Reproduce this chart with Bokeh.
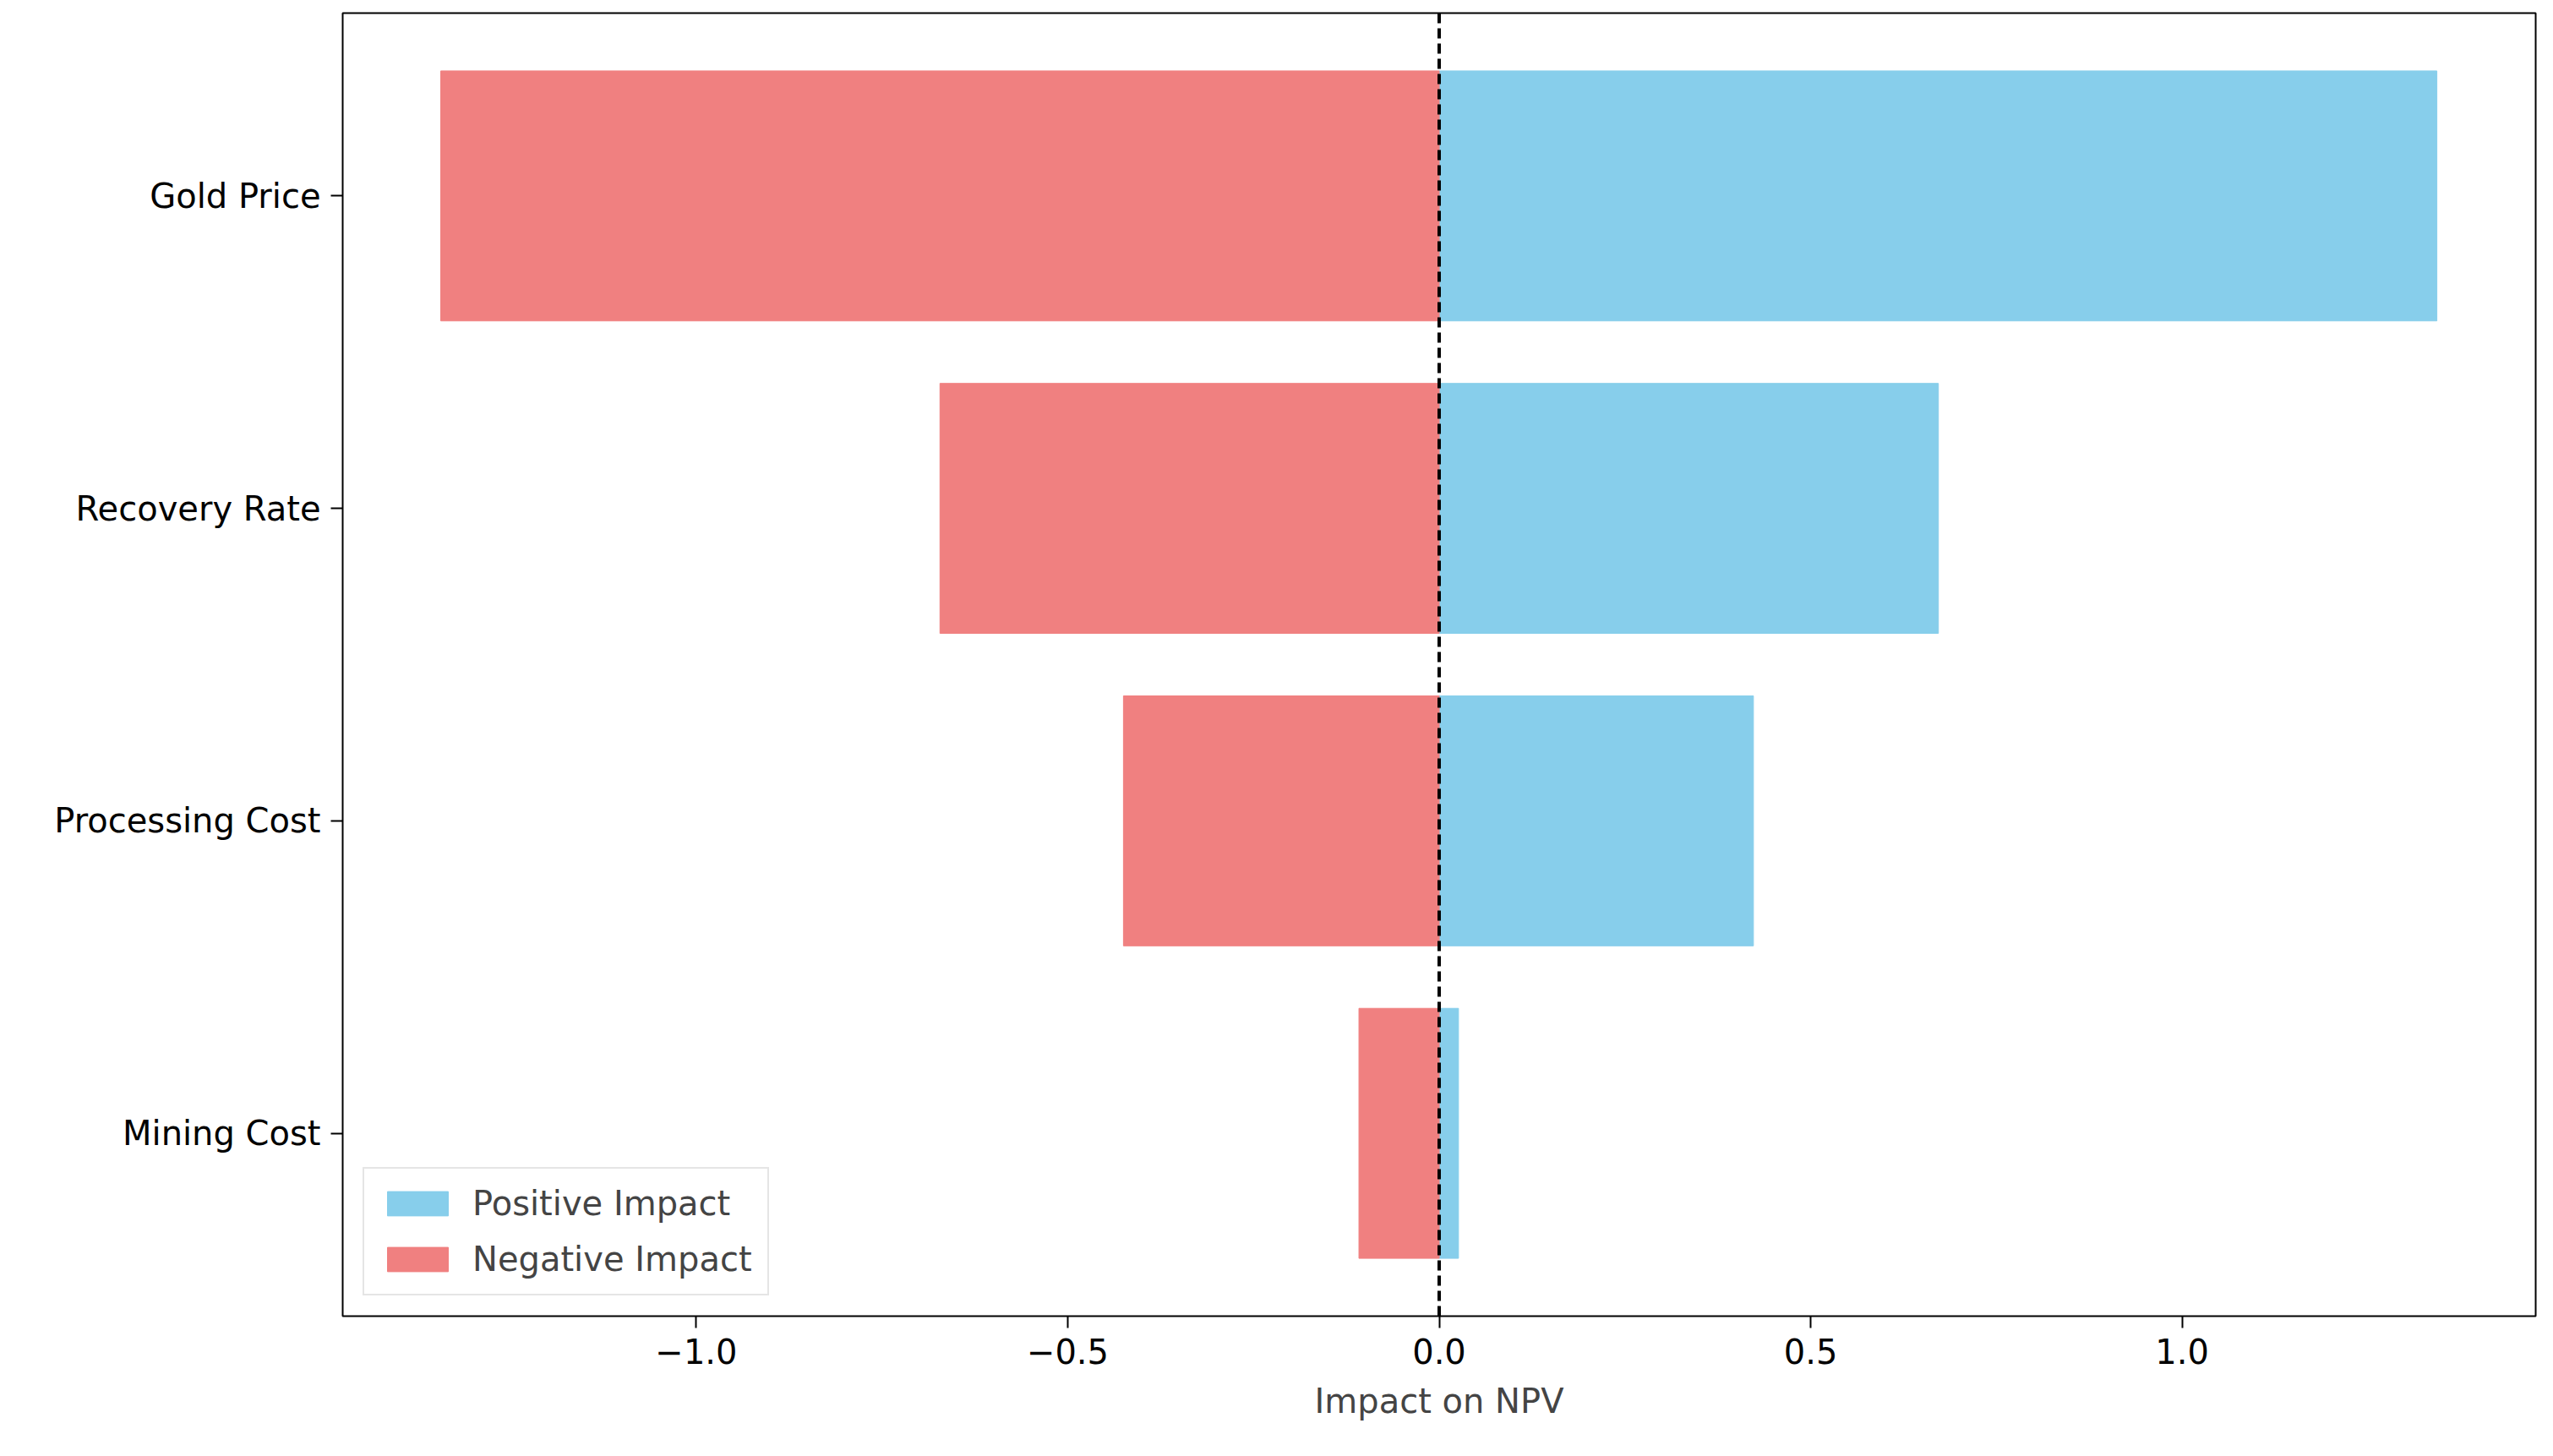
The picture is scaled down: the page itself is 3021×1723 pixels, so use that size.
from bokeh.plotting import figure
from bokeh.models import Span, Legend, LegendItem, FixedTicker, Range1d
from bokeh.embed import file_html
from bokeh.resources import INLINE

categories = ["Mining Cost", "Processing Cost", "Recovery Rate", "Gold Price"]
positive = [0.026, 0.423, 0.672, 1.343]
negative = [-0.108, -0.425, -0.672, -1.344]

ypos = list(range(len(categories)))
p = figure(width=3005, height=1700, output_backend="svg", toolbar_location=None,
           x_range=Range1d(-1.476, 1.476), y_range=Range1d(-0.585, 3.585),
           min_border_left=405, min_border_right=5, min_border_top=15, min_border_bottom=143)
p.xgrid.visible = False
p.ygrid.visible = False
p.outline_line_color = "black"
p.outline_line_width = 2

r1 = p.hbar(y=ypos, left=0, right=positive, height=0.8, color="#87CEEB")
r2 = p.hbar(y=ypos, left=negative, right=0, height=0.8, color="#F08080")
p.add_layout(Span(location=0, dimension="height", line_color="black", line_width=4, line_dash="12 6"))

p.yaxis.ticker = FixedTicker(ticks=ypos)
p.yaxis.major_label_overrides = {i: c for i, c in enumerate(categories)}
p.xaxis.ticker = FixedTicker(ticks=[-1.0, -0.5, 0.0, 0.5, 1.0])
p.xaxis.major_label_overrides = {-1.0: "\u22121.0", -0.5: "\u22120.5", 0.0: "0.0", 0.5: "0.5", 1.0: "1.0"}
p.xaxis.axis_label = "Impact on NPV"
for ax in (p.xaxis[0], p.yaxis[0]):
    ax.major_label_text_font = "DejaVu Sans"
    ax.major_label_text_font_size = "40px"
    ax.major_label_text_color = "black"
    ax.axis_line_color = None
    ax.minor_tick_line_color = None
    ax.major_tick_line_width = 2
    ax.major_tick_line_color = "black"
    ax.major_tick_out = 14
    ax.major_tick_in = 0
    ax.major_label_standoff = 12
p.xaxis.axis_label_text_font = "DejaVu Sans"
p.xaxis.axis_label_text_font_size = "40px"
p.xaxis.axis_label_text_font_style = "normal"
p.xaxis.axis_label_standoff = 18

legend = Legend(items=[LegendItem(label="Positive Impact", renderers=[r1]),
                       LegendItem(label="Negative Impact", renderers=[r2])],
                location="bottom_left", label_text_font="DejaVu Sans", label_text_font_size="40px",
                glyph_width=90, glyph_height=36, spacing=20, padding=18, margin=24,
                border_line_color="#cccccc", border_line_width=2, label_standoff=20)
p.add_layout(legend)

open("out.html", "w").write(file_html(p, INLINE))
